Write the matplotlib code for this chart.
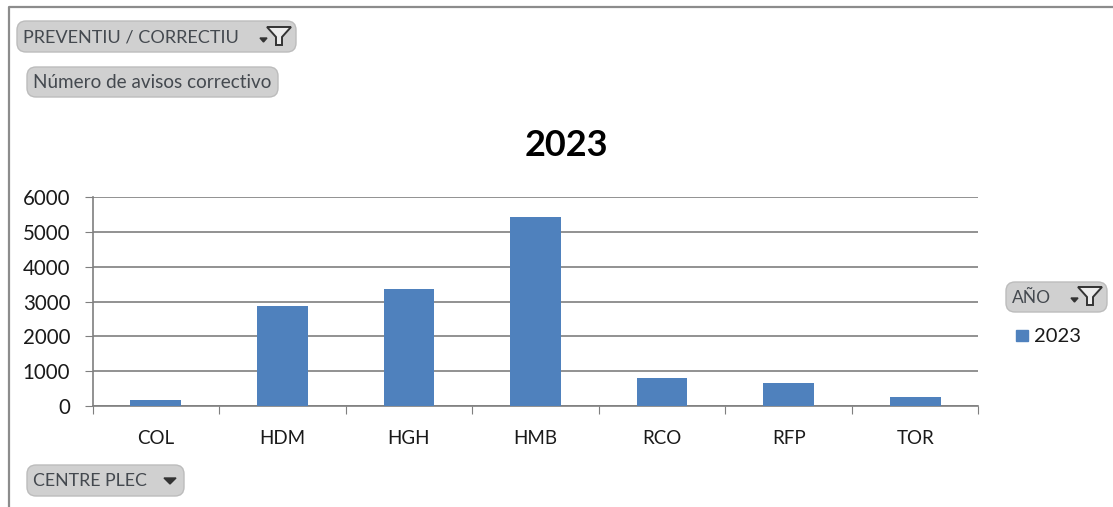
#!/usr/bin/env python3
"""Pivot chart of corrective notices per centre, 2023"""

import matplotlib
matplotlib.use('Agg')
import matplotlib.pyplot as plt
from matplotlib.patches import FancyBboxPatch, Polygon, Rectangle

centres = ['COL', 'HDM', 'HGH', 'HMB', 'RCO', 'RFP', 'TOR']
avisos_2023 = [160, 2870, 3370, 5430, 800, 660, 260]
y_ticks = [0, 1000, 2000, 3000, 4000, 5000, 6000]

W, H = 1113, 507
BLUE = '#4f81bd'
GRID = '#7f7f7f'
FONT = ['Lato', 'DejaVu Sans']

plt.rcParams['font.family'] = FONT

fig = plt.figure(figsize=(W / 100, H / 100), dpi=100)

# Overlay in pixel coordinates for the frame and the field buttons
over = fig.add_axes([0, 0, 1, 1])
over.set_xlim(0, W)
over.set_ylim(H, 0)
over.axis('off')

# Chart axes
ax = fig.add_axes([92.5 / W, 1 - 406 / H, (978.5 - 92.5) / W, (406 - 197) / H])
ax.patch.set_alpha(0)
ax.bar(range(len(centres)), avisos_2023, width=0.4, color=BLUE, zorder=3)
ax.set_xlim(-0.5, len(centres) - 0.5)
ax.set_ylim(0, 6000)
ax.set_yticks(y_ticks)
ax.set_xticks([i - 0.5 for i in range(len(centres) + 1)])
ax.set_xticklabels([])
ax.set_xticks(range(len(centres)), labels=centres, minor=True)
ax.tick_params(axis='x', which='major', length=6, color=GRID, direction='out')
ax.tick_params(axis='x', which='minor', length=0, pad=17, labelsize=13.5, labelcolor='#1a1a1a')
ax.tick_params(axis='y', length=6, color=GRID, pad=10, labelsize=14.8, labelcolor='#1a1a1a')
ax.grid(True, axis='y', color=GRID, linewidth=1.2, zorder=1)
for side in ['top', 'right']:
    ax.spines[side].set_visible(False)
for side in ['left', 'bottom']:
    ax.spines[side].set_color(GRID)
    ax.spines[side].set_linewidth(1.2)

# Outer chart frame
over.plot([9, 9, W], [H, 7, 7], color='#8c8c8c', linewidth=1.6)

over.text(566, 146, '2023', fontsize=26, fontweight='bold', color='black',
          ha='center', va='center')


def button(x0, y0, x1, y1, label, size):
    over.add_patch(FancyBboxPatch((x0 + 8, y0 + 8), x1 - x0 - 16, y1 - y0 - 16,
                                  boxstyle='round,pad=8,rounding_size=9',
                                  facecolor='#d0d0d0', edgecolor='#bcbcbc', linewidth=1))
    over.text(x0 + 6, (y0 + y1) / 2 + 1, label, fontsize=size,
              color='#44494f', ha='left', va='center')


def funnel(x, y):
    # small drop arrow plus the filter glyph
    over.add_patch(Polygon([(x - 19, y + 2), (x - 12, y + 2), (x - 15.5, y + 6)], color='#333333'))
    over.add_patch(Polygon([(x - 12, y - 9), (x + 12, y - 9), (x + 3, y + 1), (x + 3, y + 9),
                            (x - 3, y + 9), (x - 3, y + 1)],
                           facecolor='#ececec', edgecolor='#333333', linewidth=1.4))


button(17, 21, 296, 52, 'PREVENTIU / CORRECTIU', 13.1)
funnel(279, 36)
button(27, 67, 278, 97, 'Número de avisos correctivo', 13.6)
button(1006, 282, 1107, 312, 'AÑO', 12.5)
funnel(1090, 296)
button(27, 465, 184, 496, 'CENTRE PLEC', 12.8)
over.add_patch(Polygon([(164, 478), (176, 478), (170, 484)], color='#333333'))

# Legend
over.add_patch(Rectangle((1016, 330), 12, 11, color=BLUE))
over.text(1034, 336, '2023', fontsize=14.5, color='#1a1a1a', ha='left', va='center')

fig.savefig('out.png', dpi=100, facecolor='white')
